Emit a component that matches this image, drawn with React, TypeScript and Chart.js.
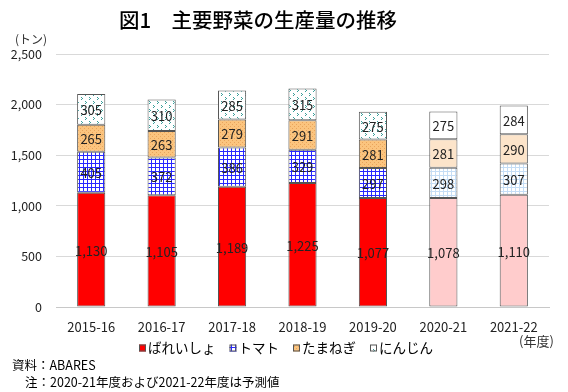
import React, { useEffect, useRef } from "react";
import { Chart, registerables } from "chart.js";

Chart.register(...registerables);

const categories = ["2015-16", "2016-17", "2017-18", "2018-19", "2019-20", "2020-21", "2021-22"];
const potato = [1130, 1105, 1189, 1225, 1077, 1078, 1110];
const tomato = [405, 372, 386, 329, 297, 298, 307];
const onion = [265, 263, 279, 291, 281, 281, 290];
const carrot = [305, 310, 285, 315, 275, 275, 284];
const forecastFrom = 5; // index from which values are forecasts
const seriesNames = ["ばれいしょ", "トマト", "たまねぎ", "にんじん"];
const yTicks = [0, 500, 1000, 1500, 2000, 2500];

const FONT = "'Noto Sans CJK JP', 'Noto Sans', sans-serif";

function makePattern(size: number, draw: (c: CanvasRenderingContext2D) => void): CanvasPattern | string {
  const cv = document.createElement("canvas");
  cv.width = size;
  cv.height = size;
  const c = cv.getContext("2d");
  if (!c) return "#fff";
  draw(c);
  const p = c.createPattern(cv, "repeat");
  return p || "#fff";
}

function gridPattern(line: string) {
  return makePattern(4, (c) => {
    c.fillStyle = "#ffffff";
    c.fillRect(0, 0, 4, 4);
    c.fillStyle = line;
    c.fillRect(3, 0, 1, 4);
    c.fillRect(0, 3, 4, 1);
  });
}

function onionPattern() {
  return makePattern(4, (c) => {
    c.fillStyle = "#FBC47E";
    c.fillRect(0, 0, 4, 4);
    c.fillStyle = "#E9A45C";
    c.fillRect(0, 0, 1, 1);
    c.fillRect(2, 2, 1, 1);
  });
}

function carrotPattern() {
  return makePattern(8, (c) => {
    c.fillStyle = "#ffffff";
    c.fillRect(0, 0, 8, 8);
    c.fillStyle = "#3A9E9A";
    c.fillRect(1, 1, 1, 1);
    c.fillRect(2, 2, 1, 1);
    c.fillRect(1, 3, 1, 1);
    c.fillRect(5, 5, 1, 1);
    c.fillRect(6, 6, 1, 1);
    c.fillRect(5, 7, 1, 1);
  });
}

export default function App() {
  const ref = useRef<HTMLCanvasElement>(null);

  useEffect(() => {
    if (!ref.current) return;
    const actualFills = [
      "#FF0000",
      gridPattern("#2828FF"),
      onionPattern(),
      carrotPattern(),
    ];
    const forecastFills = [
      "#FFCCCC",
      gridPattern("#C5DDF5"),
      "#FCE4CA",
      "#FFFFFF",
    ];
    const values = [potato, tomato, onion, carrot];

    const datasets = values.map((vals, i) => ({
      label: seriesNames[i],
      data: vals,
      backgroundColor: (ctx: any) =>
        ctx.dataIndex !== undefined && ctx.dataIndex >= forecastFrom ? forecastFills[i] : actualFills[i],
      borderColor: "#555555",
      borderWidth: 1,
      borderSkipped: false as const,
      barPercentage: 0.4,
      categoryPercentage: 1.0,
    }));

    const labelsPlugin = {
      id: "segLabels",
      afterDatasetsDraw(chart: any) {
        const c = chart.ctx;
        c.save();
        c.font = `13px ${FONT}`;
        c.fillStyle = "#222";
        c.textAlign = "center";
        c.textBaseline = "middle";
        chart.data.datasets.forEach((ds: any, di: number) => {
          const meta = chart.getDatasetMeta(di);
          meta.data.forEach((el: any, idx: number) => {
            const v = ds.data[idx];
            c.fillText(v.toLocaleString("en-US"), el.x, (el.y + el.base) / 2 + 1);
          });
        });
        c.restore();
      },
      afterDraw(chart: any) {
        const c = chart.ctx;
        c.save();
        // title
        c.fillStyle = "#000";
        c.font = `500 20.5px ${FONT}`;
        c.textAlign = "center";
        c.textBaseline = "middle";
        c.fillText("図1　主要野菜の生産量の推移", 258, 20);
        // unit
        c.font = `12px ${FONT}`;
        c.fillStyle = "#333";
        c.textAlign = "left";
        c.fillText("(トン)", 15, 39);
        c.font = `13px ${FONT}`;
        c.fillText("(年度)", 519, 341);
        // footnotes
        c.fillStyle = "#000";
        c.font = `12.5px ${FONT}`;
        c.fillText("資料：ABARES", 12, 365);
        c.fillText("注：2020-21年度および2021-22年度は予測値", 25, 382);
        // legend
        c.font = `13.5px ${FONT}`;
        const box = 7;
        const gapIcon = 2;
        const gapItem = 14;
        const widths = seriesNames.map((n) => box + gapIcon + c.measureText(n).width);
        const total = widths.reduce((a, b) => a + b, 0) + gapItem * (seriesNames.length - 1);
        let x = 286 - total / 2;
        const ly = 348;
        seriesNames.forEach((n, i) => {
          c.fillStyle = actualFills[i] as any;
          c.fillRect(x, ly - box / 2, box, box);
          c.strokeStyle = "#555";
          c.lineWidth = 1;
          c.strokeRect(x + 0.5, ly - box / 2 + 0.5, box - 1, box - 1);
          c.fillStyle = "#000";
          c.textBaseline = "middle";
          c.fillText(n, x + box + gapIcon, ly);
          x += widths[i] + gapItem;
        });
        c.restore();
      },
    };

    const chart = new Chart(ref.current, {
      type: "bar",
      data: { labels: categories, datasets },
      options: {
        animation: false,
        responsive: false,
        maintainAspectRatio: false,
        layout: { padding: { left: 0, top: 54, right: 19, bottom: 0 } },
        plugins: {
          legend: { display: false },
          title: { display: false },
          tooltip: { enabled: false },
        },
        scales: {
          x: {
            stacked: true,
            grid: { display: false, drawTicks: false },
            border: { color: "#c8c8c8" },
            ticks: { color: "#222", font: { family: FONT, size: 13 }, padding: 12, maxRotation: 0 },
            afterFit: (s: any) => {
              s.height = 85;
            },
          },
          y: {
            stacked: true,
            min: 0,
            max: 2500,
            afterBuildTicks: (s: any) => {
              s.ticks = yTicks.map((v) => ({ value: v }));
            },
            grid: { color: "#d9d9d9", drawTicks: false },
            border: { display: false },
            ticks: {
              color: "#222",
              font: { family: FONT, size: 12.5 },
              padding: 14,
              callback: (v: any) => Number(v).toLocaleString("en-US"),
            },
            afterFit: (s: any) => {
              s.width = 56;
            },
          },
        },
      },
      plugins: [labelsPlugin],
    });
    return () => chart.destroy();
  }, []);

  return (
    <div style={{ position: "fixed", left: 0, top: 0, width: 568, height: 392, background: "#fff" }}>
      <canvas ref={ref} width={568} height={392} style={{ width: 568, height: 392 }} />
    </div>
  );
}
